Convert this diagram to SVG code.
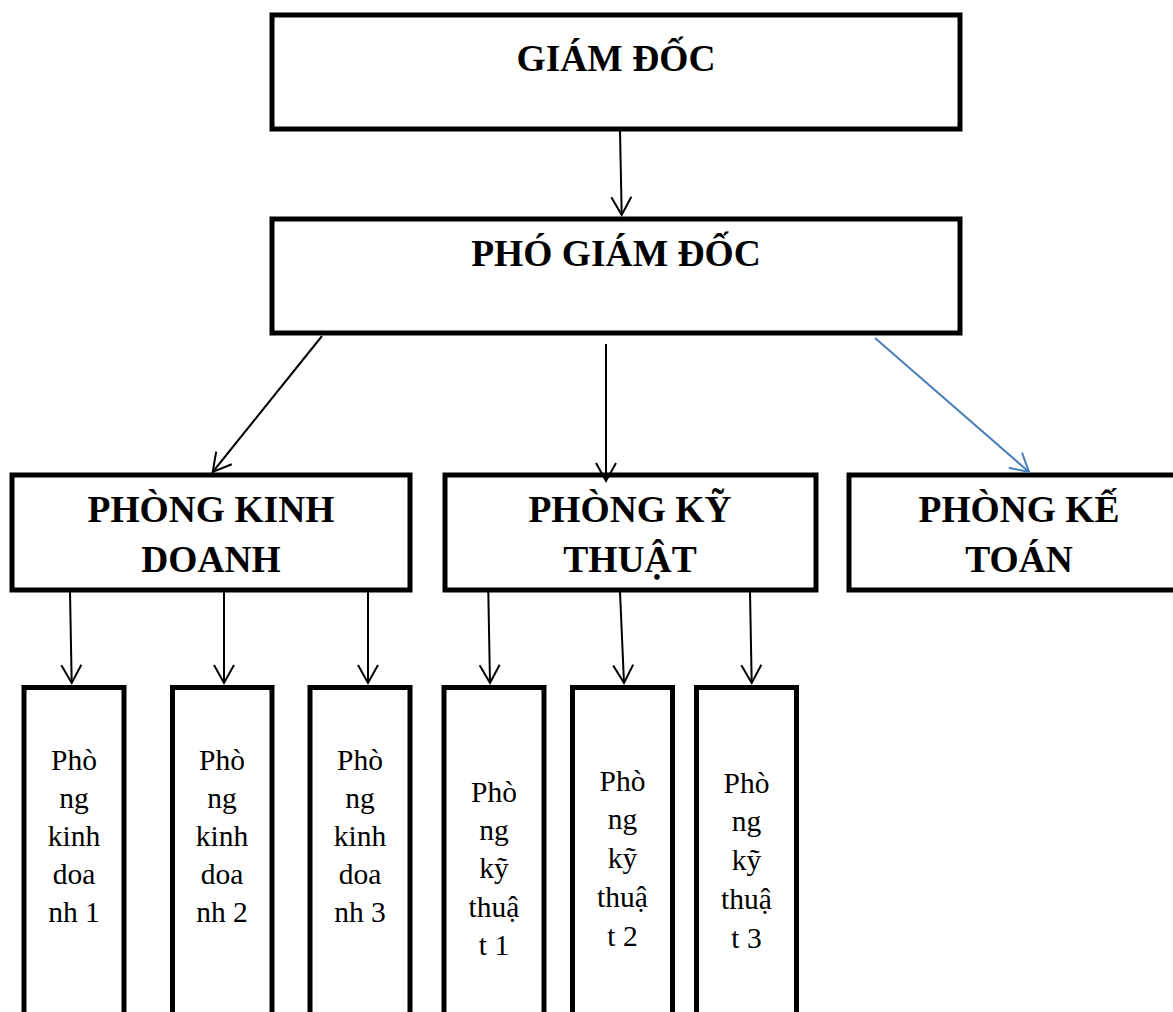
<svg xmlns="http://www.w3.org/2000/svg" width="1173" height="1012" viewBox="0 0 1173 1012">
<defs>
<style>
.box{fill:#fff;stroke:#000;stroke-width:5}
.h{font-family:"Liberation Serif","Times New Roman",serif;font-weight:bold;font-size:37.5px;fill:#000;text-anchor:middle}
.s{font-family:"Liberation Serif","Times New Roman",serif;font-size:29.5px;fill:#000;text-anchor:middle}
.c{fill:none;stroke:#000;stroke-width:2}
.cb{fill:none;stroke:#4a7ebb;stroke-width:2}
</style>
<marker id="a" markerUnits="userSpaceOnUse" orient="auto" refX="0" refY="0" viewBox="-20 -12 22 24" markerWidth="22" markerHeight="24" overflow="visible">
<path d="M-18,-10 L0,0 L-18,10" fill="none" stroke="#000" stroke-width="2"/>
</marker>
<marker id="ab" markerUnits="userSpaceOnUse" orient="auto" refX="0" refY="0" viewBox="-20 -12 22 24" markerWidth="22" markerHeight="24" overflow="visible">
<path d="M-18,-10 L0,0 L-18,10" fill="none" stroke="#4a7ebb" stroke-width="2"/>
</marker>
</defs>
<rect width="1173" height="1012" fill="#fff"/>
<g id="giamdoc"><rect class="box" x="272" y="15" width="688" height="114"/><text class="h" x="616" y="71">GIÁM ĐỐC</text></g>
<g id="phogiamdoc"><rect class="box" x="272" y="219" width="688" height="114"/><text class="h" x="616" y="266">PHÓ GIÁM ĐỐC</text></g>
<g id="kinhdoanh"><rect class="box" x="12" y="475" width="398" height="115"/><text class="h" x="211" y="522">PHÒNG KINH</text><text class="h" x="211" y="572">DOANH</text></g>
<g id="kythuat"><rect class="box" x="445" y="475" width="371" height="115"/><text class="h" x="630" y="522">PHÒNG KỸ</text><text class="h" x="630" y="572">THUẬT</text></g>
<g id="ketoan"><rect class="box" x="849" y="475" width="341" height="115"/><text class="h" x="1019" y="522">PHÒNG KẾ</text><text class="h" x="1019" y="572">TOÁN</text></g>
<g id="kd1"><rect class="box" x="24" y="687.5" width="100" height="350"/><text class="s" x="74"><tspan x="74" y="770">Phò</tspan><tspan x="74" y="808">ng</tspan><tspan x="74" y="846">kinh</tspan><tspan x="74" y="884">doa</tspan><tspan x="74" y="922">nh 1</tspan></text></g>
<g id="kd2"><rect class="box" x="172.5" y="687.5" width="99.5" height="350"/><text class="s" x="222"><tspan x="222" y="770">Phò</tspan><tspan x="222" y="808">ng</tspan><tspan x="222" y="846">kinh</tspan><tspan x="222" y="884">doa</tspan><tspan x="222" y="922">nh 2</tspan></text></g>
<g id="kd3"><rect class="box" x="310" y="687.5" width="100" height="350"/><text class="s" x="360"><tspan x="360" y="770">Phò</tspan><tspan x="360" y="808">ng</tspan><tspan x="360" y="846">kinh</tspan><tspan x="360" y="884">doa</tspan><tspan x="360" y="922">nh 3</tspan></text></g>
<g id="kt1"><rect class="box" x="444" y="687.5" width="100" height="350"/><text class="s" x="494"><tspan x="494" y="802">Phò</tspan><tspan x="494" y="840">ng</tspan><tspan x="494" y="878">kỹ</tspan><tspan x="494" y="917">thuậ</tspan><tspan x="494" y="955">t 1</tspan></text></g>
<g id="kt2"><rect class="box" x="572.5" y="687.5" width="100" height="350"/><text class="s" x="622.5"><tspan x="622.5" y="791">Phò</tspan><tspan x="622.5" y="829">ng</tspan><tspan x="622.5" y="868">kỹ</tspan><tspan x="622.5" y="907">thuậ</tspan><tspan x="622.5" y="946">t 2</tspan></text></g>
<g id="kt3"><rect class="box" x="696.5" y="687.5" width="100" height="350"/><text class="s" x="746.5"><tspan x="746.5" y="793">Phò</tspan><tspan x="746.5" y="831">ng</tspan><tspan x="746.5" y="870">kỹ</tspan><tspan x="746.5" y="909">thuậ</tspan><tspan x="746.5" y="948">t 3</tspan></text></g>
<g id="connectors">
<line class="c" x1="620" y1="131" x2="621.7" y2="215" marker-end="url(#a)"/>
<line class="c" x1="322" y1="336" x2="212.7" y2="472" marker-end="url(#a)"/>
<line class="c" x1="606" y1="344" x2="606" y2="481" marker-end="url(#a)"/>
<line class="cb" x1="875" y1="338" x2="1029" y2="472" marker-end="url(#ab)"/>
<line class="c" x1="70" y1="592" x2="71.7" y2="683" marker-end="url(#a)"/>
<line class="c" x1="224" y1="592" x2="224" y2="683" marker-end="url(#a)"/>
<line class="c" x1="368" y1="592" x2="368" y2="683" marker-end="url(#a)"/>
<line class="c" x1="488.3" y1="592" x2="490" y2="683" marker-end="url(#a)"/>
<line class="c" x1="620" y1="592" x2="624" y2="683" marker-end="url(#a)"/>
<line class="c" x1="750" y1="592" x2="751.7" y2="683" marker-end="url(#a)"/>
</g>
</svg>
